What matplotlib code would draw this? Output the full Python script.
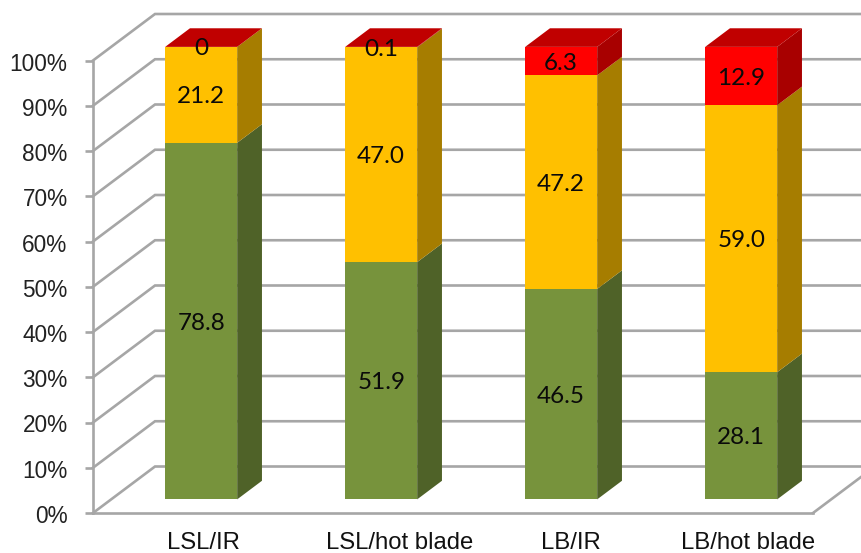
import numpy as np
import matplotlib
matplotlib.use("Agg")
import matplotlib.pyplot as plt
from matplotlib.patches import Polygon
from matplotlib.transforms import ScaledTranslation

categories = ["LSL/IR", "LSL/hot blade", "LB/IR", "LB/hot blade"]
green_values = [78.8, 51.9, 46.5, 28.1]
yellow_values = [21.2, 47.0, 47.2, 59.0]
red_values = [0, 0.1, 6.3, 12.9]
value_labels = [["78.8", "51.9", "46.5", "28.1"],
                ["21.2", "47.0", "47.2", "59.0"],
                ["0", "0.1", "6.3", "12.9"]]
y_ticks = list(range(0, 101, 10))

W, H = 861, 553
fig = plt.figure(figsize=(W / 100, H / 100), dpi=100, facecolor="white")
# front plane of the box: 93..813 px across, 513..60.5 px down
ax = fig.add_axes([93 / W, 1 - 513 / H, 720 / W, 452.5 / H])
ax.set_xlim(0, 4)
ax.set_ylim(0, 100)
ax.patch.set_visible(False)

# oblique projection: one unit of depth in axis units
DX = 62 / 180
DY = 46.5 / 4.525
BAR_W = 72 / 180
D_FRONT, D_BACK = 0.293, 0.693


def proj(x, y, d):
    return x + d * DX, y + d * DY


def px_shift(dx, dy):
    return ScaledTranslation(dx / 100, dy / 100, fig.dpi_scale_trans)


GRID = "#A6A6A6"
LW = 1.9
# back wall and left wall gridlines
for t in y_ticks:
    x0, y0 = proj(0, t, 0)
    x1, y1 = proj(0, t, 1)
    ax.plot([x0, x1, 4.3], [y0, y1, y1], color=GRID, lw=LW, clip_on=False,
            solid_joinstyle="miter", zorder=1)
# right edge of the floor
fx, fy = proj(4, 0, 0)
ex, ey = proj(4, 0, 1)
ax.plot([fx, ex], [fy, ey], color=GRID, lw=LW, clip_on=False, zorder=1)

for name in ["top", "right"]:
    ax.spines[name].set_visible(False)
for name in ["left", "bottom"]:
    ax.spines[name].set_color(GRID)
    ax.spines[name].set_linewidth(LW)
    ax.spines[name].set_zorder(1.5)

ax.set_yticks(y_ticks)
ax.set_yticklabels([f"{t}%" for t in y_ticks], fontsize=16.3,
                   family="Liberation Sans", color="#222222")
ax.tick_params(axis="y", length=5.8, width=LW, color=GRID, pad=12.5)
for lab in ax.get_yticklabels():
    lab.set_transform(lab.get_transform() + px_shift(0, -1))

# tick labels sit off the slot centres, nudged per category
label_nudge = [20, 37, 28, 25]
ax.set_xticks(np.arange(4) + 0.5)
ax.set_xticklabels(categories, fontsize=17.2, family="Liberation Sans", color="#111111")
ax.tick_params(axis="x", length=0, pad=13.5)
for lab, n in zip(ax.get_xticklabels(), label_nudge):
    lab.set_transform(lab.get_transform() + px_shift(n, 0))

series = [(green_values, "#77933C", "#4F6228"),
          (yellow_values, "#FFC000", "#A67D00"),
          (red_values, "#FF0000", "#A80000")]

totals = np.sum([green_values, yellow_values, red_values], axis=0)
bottoms = np.zeros(4)
for s, (vals, front, side) in enumerate(series):
    share = np.array(vals) / totals * 100
    for i in range(4):
        xl = i + 0.5 - BAR_W / 2
        xr = i + 0.5 + BAR_W / 2
        lo, hi = bottoms[i], bottoms[i] + share[i]
        zo = 3 + i
        ax.add_patch(Polygon([proj(xl, lo, D_FRONT), proj(xr, lo, D_FRONT),
                              proj(xr, hi, D_FRONT), proj(xl, hi, D_FRONT)],
                             closed=True, fc=front, ec="none", clip_on=False, zorder=zo))
        ax.add_patch(Polygon([proj(xr, lo, D_FRONT), proj(xr, lo, D_BACK),
                              proj(xr, hi, D_BACK), proj(xr, hi, D_FRONT)],
                             closed=True, fc=side, ec="none", clip_on=False, zorder=zo))
        cx, cy = proj(i + 0.5, (lo + hi) / 2, D_FRONT)
        ax.text(cx, cy, value_labels[s][i], ha="center", va="center", fontsize=17.5,
                family="Lato", color="#0a0a0a", zorder=10, clip_on=False,
                transform=ax.transData + px_shift(0, -2))
    bottoms += share

# the cap of each column takes the colour of the top series
for i in range(4):
    xl = i + 0.5 - BAR_W / 2
    xr = i + 0.5 + BAR_W / 2
    hi = bottoms[i]
    ax.add_patch(Polygon([proj(xl, hi, D_FRONT), proj(xr, hi, D_FRONT),
                          proj(xr, hi, D_BACK), proj(xl, hi, D_BACK)],
                         closed=True, fc="#C00000", ec="none", clip_on=False, zorder=3 + i))

fig.savefig("out.png", dpi=100, facecolor="white")
